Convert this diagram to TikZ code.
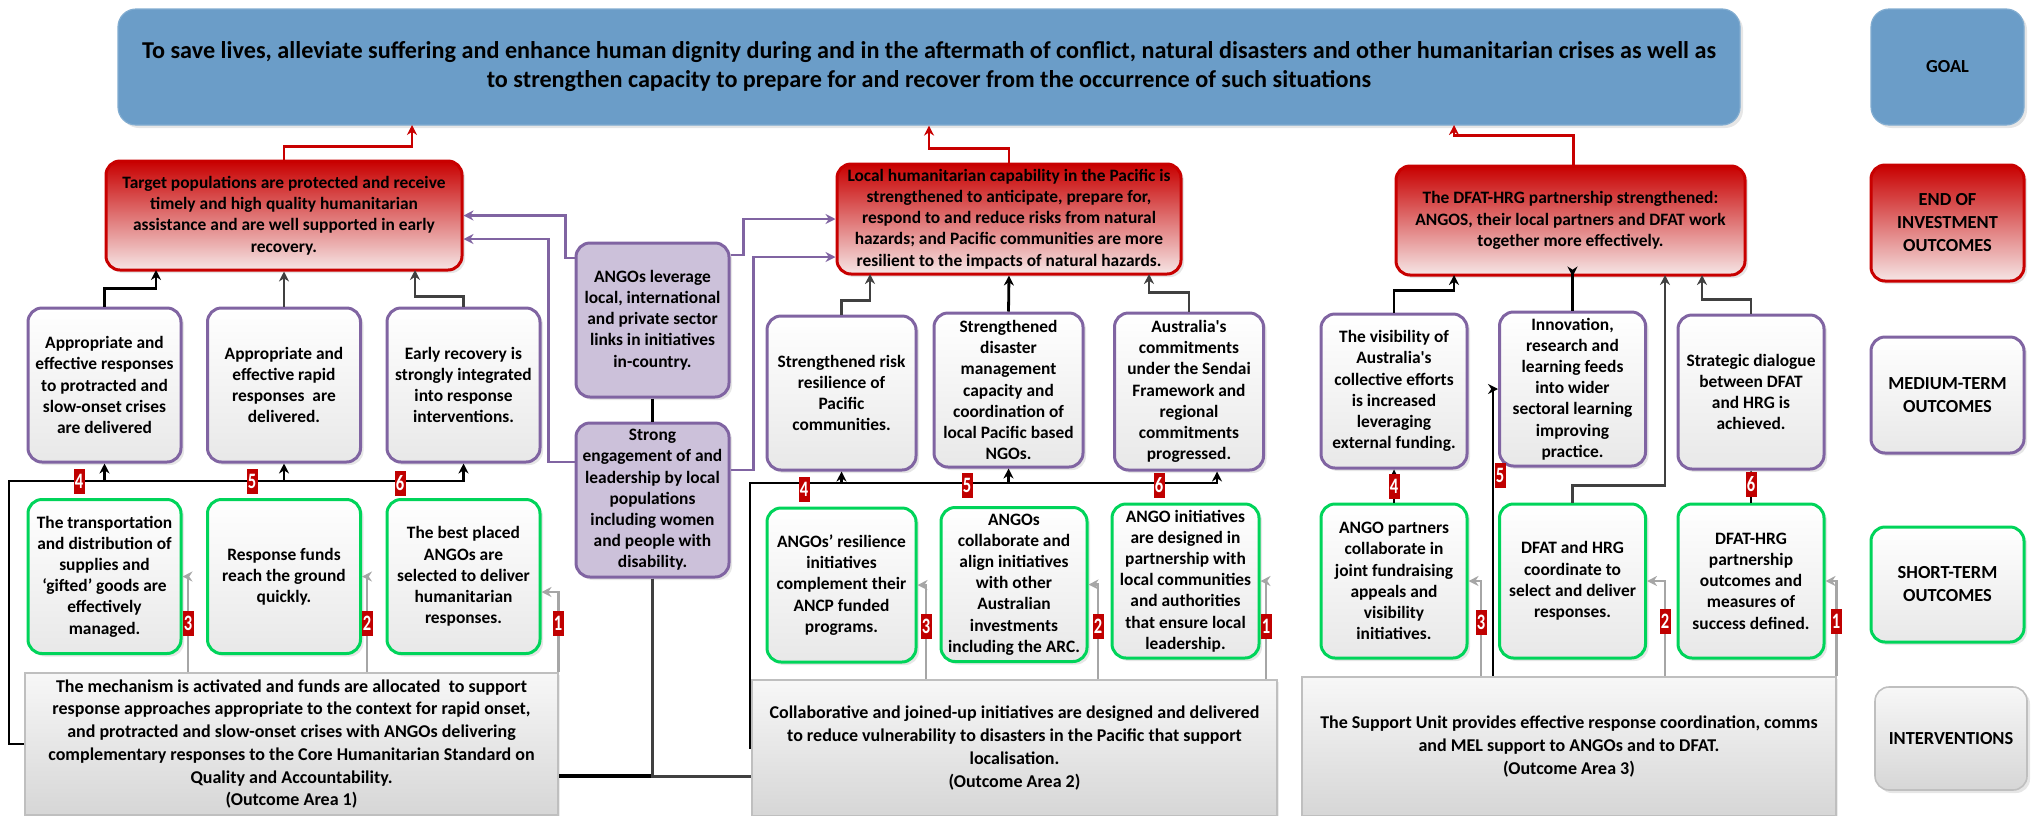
\documentclass[tikz,border=0pt]{standalone}
\usepackage{fontspec}
\setmainfont{Carlito}
\usepackage{graphicx}
\usetikzlibrary{arrows.meta, shadows}
\definecolor{goalblue}{HTML}{6B9DC8}
\definecolor{eoired}{HTML}{C80000}
\definecolor{eoipale}{HTML}{F6E6E6}
\definecolor{medpurple}{HTML}{8064A2}
\definecolor{lavender}{HTML}{CCC1DA}
\definecolor{stgreen}{HTML}{00D45A}
\definecolor{intgrey}{HTML}{BFBFBF}
\definecolor{linegrey}{HTML}{A6A6A6}
\definecolor{darkline}{HTML}{404040}
\definecolor{badgered}{HTML}{C00000}
\newcommand{\badgenum}[1]{\scalebox{0.75}[1]{#1}}

\begin{document}
\begin{tikzpicture}[x=0.5pt, y=-0.5pt,
    box/.style={rounded corners=7pt, align=center, inner sep=2pt, line width=1.5pt,
                drop shadow={shadow xshift=1.5pt, shadow yshift=-1.5pt, opacity=0.2},
                font=\bfseries\fontsize{8.7pt}{10.6pt}\selectfont},
    goalbox/.style={box, rounded corners=9pt, draw=goalblue!85!white, fill=goalblue, line width=0.6pt,
                minimum width=811pt, minimum height=58pt,
                font=\bfseries\fontsize{12.1pt}{14.5pt}\selectfont},
    eoi/.style={box, draw=eoired, top color=eoired, bottom color=eoipale, minimum height=54.5pt},
    med/.style={box, draw=medpurple, top color=white, bottom color=black!9,
                minimum width=74.5pt, minimum height=77pt},
    short/.style={box, draw=stgreen, top color=white, bottom color=black!9,
                minimum width=74.5pt, minimum height=77pt},
    lav/.style={box, draw=medpurple, fill=lavender, minimum width=76.5pt, minimum height=77pt},
    intv/.style={draw=intgrey, line width=0.8pt, top color=black!3, bottom color=black!16,
                align=center, inner sep=2pt, minimum height=69pt,
                drop shadow={shadow xshift=1pt, shadow yshift=-1pt, opacity=0.15},
                font=\bfseries\fontsize{9pt}{11.35pt}\selectfont},
    tag/.style={box, minimum width=76.5pt, minimum height=58pt,
                font=\bfseries\fontsize{9.2pt}{11.5pt}\selectfont},
    badge/.style={fill=badgered, text=white, inner sep=0pt, minimum width=5.5pt,
                minimum height=12.5pt, font=\bfseries\fontsize{11pt}{11pt}\selectfont},
    redarr/.style={-{Stealth[length=5pt,width=5pt]}, eoired, line width=1.4pt},
    blkarr/.style={-{Stealth[length=5pt,width=5pt]}, black, line width=1.4pt},
    dkarr/.style={-{Stealth[length=5pt,width=5pt]}, darkline, line width=1.4pt},
    gryarr/.style={-{Stealth[length=5pt,width=5pt]}, linegrey, line width=1.4pt},
    lavarr/.style={-{Stealth[length=5pt,width=5pt]}, medpurple, line width=1.4pt},
    link/.style={line width=1.8pt}]

  \useasboundingbox (0,0) rectangle (2033,815);

  % ---- goal and end of investment outcomes ----
  \node[goalbox] (goal) at (929,67)
    {To save lives, alleviate suffering and enhance human dignity during and in the aftermath of conflict, natural disasters and other humanitarian crises as well as\\
     to strengthen capacity to prepare for and recover from the occurrence of such situations};

  \node[eoi, minimum width=178pt] (eoi1) at (284,215.5)
    {Target populations are protected and receive\\ timely and high quality humanitarian\\ assistance and are well supported in early\\ recovery.};
  \node[eoi, minimum width=172pt, minimum height=55pt] (eoi2) at (1009,219)
    {Local humanitarian capability in the Pacific is\\ strengthened to anticipate, prepare for,\\ respond to and reduce risks from natural\\ hazards; and Pacific communities are more\\ resilient to the impacts of natural hazards.};
  \node[eoi, minimum width=174.5pt] (eoi3) at (1570.5,220.5)
    {The DFAT-HRG partnership strengthened:\\ ANGOS, their local partners and DFAT work\\ together more effectively.};

  % ---- cross-cutting boxes ----
  \node[lav] (lever)  at (652.5,320) {ANGOs leverage\\ local, international\\ and private sector\\ links in initiatives\\ in-country.};
  \node[lav] (strong) at (652.5,500) {Strong\\ engagement of and\\ leadership by local\\ populations\\ including women\\ and people with\\ disability.};

  % ---- medium-term outcomes ----
  \node[med, minimum width=76.5pt] (m1) at (104.5,385) {Appropriate and\\ effective responses\\ to protracted and\\ slow-onset crises\\ are delivered};
  \node[med, minimum width=76.5pt] (m2) at (284,385)   {Appropriate and\\ effective rapid\\ responses~ are\\ delivered.};
  \node[med, minimum width=76.5pt] (m3) at (463.5,385) {Early recovery is\\ strongly integrated\\ into response\\ interventions.};
  \node[med] (m4) at (841.5,393)  {Strengthened risk\\ resilience of\\ Pacific\\ communities.};
  \node[med] (m5) at (1008.5,390) {Strengthened\\ disaster\\ management\\ capacity and\\ coordination of\\ local Pacific based\\ NGOs.};
  \node[med, minimum height=78.5pt] (m6) at (1189,391.5) {Australia\textquotesingle s\\ commitments\\ under the Sendai\\ Framework and\\ regional\\ commitments\\ progressed.};
  \node[med, minimum width=73pt] (m7) at (1394,391)   {The visibility of\\ Australia\textquotesingle s\\ collective efforts\\ is increased\\ leveraging\\ external funding.};
  \node[med, minimum width=73pt] (m8) at (1572.5,389) {Innovation,\\ research and\\ learning feeds\\ into wider\\ sectoral learning\\ improving\\ practice.};
  \node[med, minimum width=73pt] (m9) at (1751,392)   {Strategic dialogue\\ between DFAT\\ and HRG is\\ achieved.};

  % ---- short-term outcomes ----
  \node[short, minimum width=76.5pt] (s1) at (104.5,576.5) {The transportation\\ and distribution of\\ supplies and\\ ‘gifted’ goods are\\ effectively\\ managed.};
  \node[short, minimum width=76.5pt] (s2) at (284,576.5)   {Response funds\\ reach the ground\\ quickly.};
  \node[short, minimum width=76.5pt] (s3) at (463.5,576.5) {The best placed\\ ANGOs are\\ selected to deliver\\ humanitarian\\ responses.};
  \node[short] (s4) at (841.5,585)  {ANGOs’ resilience\\ initiatives\\ complement their\\ ANCP funded\\ programs.};
  \node[short, minimum width=73pt] (s5) at (1014,584.5) {ANGOs\\ collaborate and\\ align initiatives\\ with other\\ Australian\\ investments\\ including the ARC.};
  \node[short, minimum width=73.5pt] (s6) at (1185.5,581) {ANGO initiatives\\ are designed in\\ partnership with\\ local communities\\ and authorities\\ that ensure local\\ leadership.};
  \node[short, minimum width=73pt] (s7) at (1394,581)   {ANGO partners\\ collaborate in\\ joint fundraising\\ appeals and\\ visibility\\ initiatives.};
  \node[short, minimum width=73pt] (s8) at (1572.5,581) {DFAT and HRG\\ coordinate to\\ select and deliver\\ responses.};
  \node[short, minimum width=73pt] (s9) at (1751,581)   {DFAT-HRG\\ partnership\\ outcomes and\\ measures of\\ success defined.};

  % ---- interventions ----
  \node[intv, minimum width=266.5pt, minimum height=71pt] (i1) at (291.5,744)
    {The mechanism is activated and funds are allocated~ to support\\ response approaches appropriate to the context for rapid onset,\\ and protracted and slow-onset crises with ANGOs delivering\\ complementary responses to the Core Humanitarian Standard on\\ Quality and Accountability.\\ (Outcome Area 1)};
  \node[intv, minimum width=262.5pt, minimum height=68pt] (i2) at (1014.5,748)
    {Collaborative and joined-up initiatives are designed and delivered\\ to reduce vulnerability to disasters in the Pacific that support\\ localisation.\\ (Outcome Area 2)};
  \node[intv, minimum width=267pt, minimum height=69.5pt] (i3) at (1569,746.5)
    {The Support Unit provides effective response coordination, comms\\ and MEL support to ANGOs and to DFAT.\\ (Outcome Area 3)};

  % ---- level tags (right column) ----
  \node[tag, draw=goalblue!85!white, fill=goalblue, line width=0.6pt, rounded corners=9pt] (tgoal) at (1947.5,67) {GOAL};
  \node[tag, draw=eoired, top color=eoired, bottom color=eoipale] (teoi) at (1947.5,223) {END OF\\ INVESTMENT\\ OUTCOMES};
  \node[tag, draw=medpurple, top color=white, bottom color=black!9] (tmed) at (1947.5,395) {MEDIUM-TERM\\ OUTCOMES};
  \node[tag, draw=stgreen, top color=white, bottom color=black!9, minimum height=57.5pt] (tshort) at (1947.5,584.5) {SHORT-TERM\\ OUTCOMES};
  \node[tag, draw=intgrey, line width=0.8pt, top color=black!3, bottom color=black!16, minimum width=76pt, minimum height=51.5pt] (tint) at (1951,738.5) {INTERVENTIONS};

  % bend targets on the goal and outcome boxes
  \coordinate (g1) at (412,125);
  \coordinate (g3) at (1454,125);
  \coordinate (e1a) at (156,270);
  \coordinate (e1b) at (415,270);
  \coordinate (e2a) at (870,274);
  \coordinate (e2b) at (1149,274);
  \coordinate (e3a) at (1454,275);
  \coordinate (e3b) at (1665,275);
  \coordinate (e3c) at (1702,275);
  \coordinate (bus1) at (9,481);
  \coordinate (bus2) at (750,483);

  % ---- end of investment outcomes to goal ----
  \draw[redarr] (eoi1.north) -- ++(0,-13) -| (g1);
  \draw[redarr] (eoi2.north) -- ++(0,-14) -| (goal.south);
  \draw[redarr] ([xshift=1.5pt]eoi3.north) -- ++(0,-29) -| (g3);

  % ---- medium-term to end of investment ----
  \draw[blkarr] (m1.north) -- ++(0,-18) -| (e1a);
  \draw[dkarr]  (m2.north) -- (eoi1.south);
  \draw[dkarr]  (m3.north) -- ++(0,-10) -| (e1b);
  \draw[dkarr]  (m4.north) -- ++(0,-14) -| (e2a);
  \draw[blkarr] (m5.north) -- (eoi2.south);
  \draw[dkarr]  (m6.north) -- ++(0,-19) -| (e2b);
  \draw[blkarr] (m7.north) -- ++(0,-22) -| (e3a);
  \draw[blkarr] (m8.north) -- ++(0,-37) -- ([xshift=1pt]eoi3.south);
  \draw[dkarr]  (s8.north) -- ++(0,-17) -| (e3b);
  \draw[dkarr]  (m9.north) -- ++(0,-14) -| (e3c);

  % ---- cross-cutting links ----
  \draw[lavarr] ([yshift=31pt]lever.west) -- ++(-9,0) |- (eoi1.east);
  \draw[lavarr] ([yshift=19pt]strong.west) -- ++(-26,0) |- ([yshift=-11.75pt]eoi1.east);
  \draw[lavarr] ([yshift=32.5pt]lever.east) -- ++(13,0) |- (eoi2.west);
  \draw[lavarr] ([yshift=15pt]strong.east) -- ++(23,0) |- ([yshift=-19pt]eoi2.west);
  \draw[link, black] (lever.south) -- (strong.north);
  \draw[link, black] (strong.south) |- ([yshift=-16pt]i1.east);
  \draw[link, darkline] (strong.south) |- ([yshift=-14.25pt]i2.west);

  % ---- outcome area 1 ----
  \draw[blkarr] (i1.west) -| (bus1) -| (m3.south);
  \draw[blkarr] (m1.south |- bus1) -- (m1.south);
  \draw[blkarr] (m2.south |- bus1) -- (m2.south);
  \draw[gryarr] ([xshift=-51.75pt]i1.north) |- (s1.east);
  \draw[gryarr] ([xshift=37.75pt]i1.north) |- (s2.east);
  \draw[gryarr] (i1.north east) |- ([yshift=-7.75pt]s3.east);

  % ---- outcome area 2 ----
  \draw[blkarr] (i2.west) -| (bus2) -| ([xshift=14pt]m6.south);
  \draw[blkarr] (m4.south |- bus2) -- (m4.south);
  \draw[blkarr] (m5.south |- bus2) -- (m5.south);
  \draw[gryarr] ([xshift=-44.25pt]i2.north) |- (s4.east);
  \draw[gryarr] ([xshift=41.75pt]i2.north) |- (s5.east);
  \draw[gryarr] ([xshift=125.75pt]i2.north) |- (s6.east);

  % ---- outcome area 3 ----
  \draw[blkarr] ([xshift=-38pt]i3.north) |- (m8.west);
  \draw[-{Stealth[length=3pt,width=3pt]}, line width=1pt] (s7.north) -- (m7.south);
  \draw[-{Stealth[length=3pt,width=3pt]}, line width=1pt] (s9.north) -- (m9.south);
  \draw[gryarr] ([xshift=-44pt]i3.north) |- (s7.east);
  \draw[gryarr] ([xshift=48pt]i3.north) |- (s8.east);
  \draw[gryarr] (i3.north east) |- (s9.east);

  % numbered badges
  \node[badge] (n14) at (79,481)    {\badgenum{4}};
  \node[badge] (n15) at (252,481)   {\badgenum{5}};
  \node[badge] (n16) at (400,483)   {\badgenum{6}};
  \node[badge] (n13) at (188,623)   {\badgenum{3}};
  \node[badge] (n12) at (367,623)   {\badgenum{2}};
  \node[badge] (n11) at (558,623)   {\badgenum{1}};
  \node[badge] (n24) at (804,489)   {\badgenum{4}};
  \node[badge] (n25) at (967,485)   {\badgenum{5}};
  \node[badge] (n26) at (1159,485)  {\badgenum{6}};
  \node[badge] (n23) at (926,626)   {\badgenum{3}};
  \node[badge] (n22) at (1098,626)  {\badgenum{2}};
  \node[badge] (n21) at (1266,626)  {\badgenum{1}};
  \node[badge] (n34) at (1394,486)  {\badgenum{4}};
  \node[badge] (n35) at (1500,475)  {\badgenum{5}};
  \node[badge] (n36) at (1751,484)  {\badgenum{6}};
  \node[badge] (n33) at (1481,622)  {\badgenum{3}};
  \node[badge] (n32) at (1665,621)  {\badgenum{2}};
  \node[badge] (n31) at (1836,621)  {\badgenum{1}};
\end{tikzpicture}
\end{document}
